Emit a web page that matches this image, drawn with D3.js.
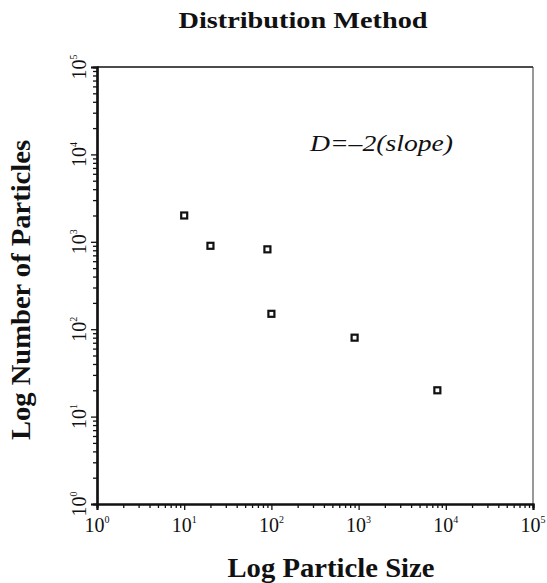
<!DOCTYPE html>
<html lang="en">
  <head>
    <meta charset="UTF-8" />
    <title>Distribution Method</title>
    <style>
      body { margin: 0; background: #fff; }
      svg text { font-family: "Liberation Serif", "DejaVu Serif", serif; fill: #111; }
    </style>
  </head>
  <body>
    <div class="chart"></div>
    <script src="https://cdn.jsdelivr.net/npm/d3@7"></script>
    <script>
    // values
    var particleSize = [10, 20, 90, 100, 900, 8000];
    var particleCount = [2000, 900, 820, 150, 80, 20];
    var decades = [0, 1, 2, 3, 4, 5];

    var w = 547, h = 583;
    var plotLeft = 97, plotRight = 533, plotTop = 67, plotBottom = 504;

    var svg = d3.select(".chart").append("svg")
                .attr("width", w)
                .attr("height", h);

    var x = d3.scaleLog().domain([1, 1e5]).range([plotLeft, plotRight]);
    var y = d3.scaleLog().domain([1, 1e5]).range([plotBottom, plotTop]);

    // minor ticks 2..9 in each decade
    var minor = [];
    decades.slice(0, 5).forEach(function(k) {
      for (var m = 2; m <= 9; m++) minor.push(m * Math.pow(10, k));
    });
    var major = decades.map(function(k) { return Math.pow(10, k); });

    // frame: thin top and right
    svg.append("line")
       .attr("x1", x(1)).attr("x2", x(1e5))
       .attr("y1", y(1e5)).attr("y2", y(1e5))
       .attr("stroke", "#111").attr("stroke-width", 1.5);
    svg.append("line")
       .attr("x1", x(1e5)).attr("x2", x(1e5))
       .attr("y1", y(1e5)).attr("y2", y(1))
       .attr("stroke", "#333").attr("stroke-width", 1);

    var xMinor = svg.append("g")
       .attr("transform", "translate(0," + plotBottom + ")")
       .call(d3.axisBottom(x).tickValues(minor).tickSize(4).tickFormat(""));
    var xMajor = svg.append("g")
       .attr("transform", "translate(0," + plotBottom + ")")
       .call(d3.axisBottom(x).tickValues(major).tickSize(6).tickFormat(""));
    var yMinor = svg.append("g")
       .attr("transform", "translate(" + plotLeft + ",0)")
       .call(d3.axisLeft(y).tickValues(minor).tickSize(4).tickFormat(""));
    var yMajor = svg.append("g")
       .attr("transform", "translate(" + plotLeft + ",0)")
       .call(d3.axisLeft(y).tickValues(major).tickSize(6).tickFormat(""));

    [xMinor, xMajor, yMinor, yMajor].forEach(function(g) {
      g.selectAll(".domain").attr("stroke", "#111").attr("stroke-width", 2.2);
      g.selectAll(".tick line").attr("stroke", "#111").attr("stroke-width", 1.3);
    });

    // x tick labels: 10 with superscript exponent
    var xl = svg.selectAll("text.xlab")
       .data(decades)
       .enter().append("text")
       .attr("class", "xlab")
       .attr("x", function(d) { return x(Math.pow(10, d)); })
       .attr("y", 532)
       .attr("text-anchor", "middle")
       .style("font-size", "20px");
    xl.append("tspan").text("10");
    xl.append("tspan")
      .attr("dy", -9)
      .style("font-size", "10px")
      .text(function(d) { return d; });

    // y tick labels, rotated
    var yl = svg.selectAll("text.ylab")
       .data(decades)
       .enter().append("text")
       .attr("class", "ylab")
       .attr("transform", function(d) {
         return "translate(86," + y(Math.pow(10, d)) + ") rotate(-90)";
       })
       .attr("text-anchor", "middle")
       .style("font-size", "20px");
    yl.append("tspan").text("10");
    yl.append("tspan")
      .attr("dy", -9)
      .style("font-size", "10px")
      .text(function(d) { return d; });

    // points
    var pts = particleSize.map(function(s, i) { return [s, particleCount[i]]; });
    svg.selectAll("rect.pt")
       .data(pts)
       .enter().append("rect")
       .attr("class", "pt")
       .attr("x", function(d) { return x(d[0]) - 3; })
       .attr("y", function(d) { return y(d[1]) - 3; })
       .attr("width", 6)
       .attr("height", 6)
       .attr("fill", "none")
       .attr("stroke", "#111")
       .attr("stroke-width", 2.2);

    // titles
    svg.append("text")
       .attr("x", 303).attr("y", 28)
       .attr("text-anchor", "middle")
       .attr("textLength", 249).attr("lengthAdjust", "spacingAndGlyphs")
       .style("font-size", "23px").style("font-weight", "bold")
       .text("Distribution Method");

    svg.append("text")
       .attr("x", 331).attr("y", 577)
       .attr("text-anchor", "middle")
       .attr("textLength", 207).attr("lengthAdjust", "spacingAndGlyphs")
       .style("font-size", "27px").style("font-weight", "bold")
       .text("Log Particle Size");

    svg.append("text")
       .attr("transform", "translate(30,290) rotate(-90)")
       .attr("text-anchor", "middle")
       .attr("textLength", 300).attr("lengthAdjust", "spacingAndGlyphs")
       .style("font-size", "27px").style("font-weight", "bold")
       .text("Log Number of Particles");

    svg.append("text")
       .attr("x", 310).attr("y", 151)
       .attr("textLength", 143).attr("lengthAdjust", "spacingAndGlyphs")
       .style("font-size", "23px").style("font-style", "italic")
       .text("D=\u20132(slope)");
    </script>
  </body>
</html>
